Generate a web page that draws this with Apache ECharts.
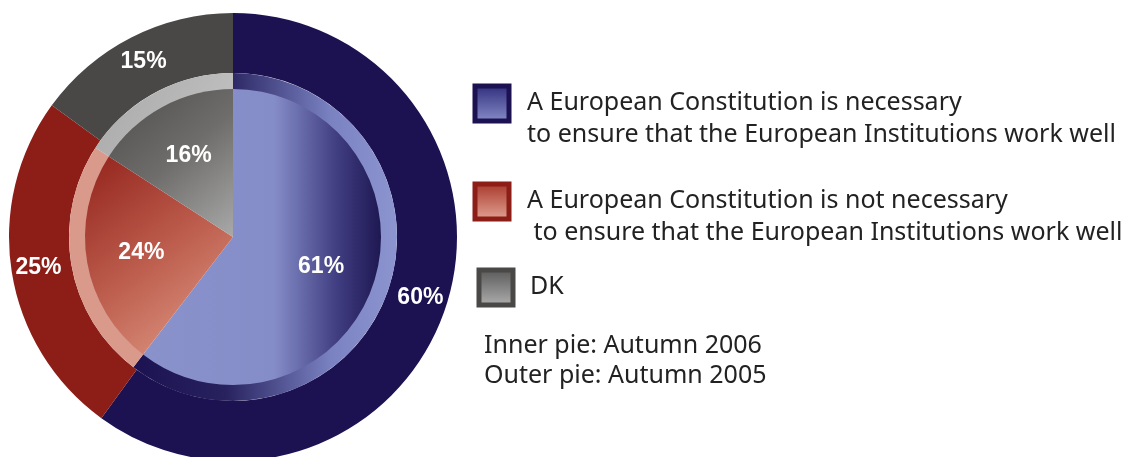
<!DOCTYPE html>
<html>
<head>
<meta charset="utf-8">
<script src="https://cdn.jsdelivr.net/npm/echarts@6/dist/echarts.min.js"></script>
<style>
html,body{margin:0;padding:0;background:#fff;}
#main{width:1128px;height:457px;}
</style>
</head>
<body>
<div id="main"></div>
<script>
// 数据
var categories = ['Necessary', 'Not necessary', 'DK'];
var innerValues = [61, 24, 16];   // Autumn 2006
var outerValues = [60, 25, 15];   // Autumn 2005
var legendLines = [
	['A European Constitution is necessary', 'to ensure that the European Institutions work well'],
	['A European Constitution is not necessary', ' to ensure that the European Institutions work well'],
	['DK']
];
var noteLines = ['Inner pie: Autumn 2006', 'Outer pie: Autumn 2005'];

var chart = echarts.init(document.getElementById('main'));

function lin(x, y, x2, y2, stops) {
	return new echarts.graphic.LinearGradient(x, y, x2, y2,
		stops.map(function(s){ return {offset: s[0], color: s[1]}; }));
}

var center = [233, 237];
var outerColors = ['#1c1252', '#8c1e17', '#4a4846'];
var innerColors = [
	lin(0, 0, 1, 0, [[0, '#8a92cc'], [0.55, '#858dc8'], [0.82, '#3f3c80'], [1, '#1e1852']]),
	lin(0, 0, 1, 1, [[0, '#93231c'], [0.5, '#bd5e4e'], [1, '#e4a08c']]),
	lin(0, 0, 1, 1, [[0, '#4e4c4a'], [0.5, '#6e6d6b'], [1, '#a9a9a9']])
];
var ringColors = [
	lin(0, 0, 1, 0, [[0, '#1c1252'], [0.35, '#28225f'], [0.75, '#7a82c2'], [1, '#8d95d0']]),
	'#d99a8b',
	lin(0, 0, 1, 1, [[0, '#a8a8a8'], [1, '#c4c4c4']])
];

function pieData(values, colors) {
	return values.map(function(v, i){
		return {name: categories[i], value: v, itemStyle: {color: colors[i]}};
	});
}

var labelStyle = {
	show: true,
	position: 'inside',
	formatter: '{c}%',
	color: '#fff',
	fontSize: 23,
	fontWeight: 'bold',
	fontFamily: 'Liberation Sans, Arial, sans-serif'
};

var series = [
	{
		type: 'pie', center: center, radius: [164, 224],
		startAngle: 90, clockwise: true, silent: true, animation: false,
		label: labelStyle, labelLine: {show: false},
		data: pieData(outerValues, outerColors)
	},
	{
		type: 'pie', center: center, radius: [147, 164],
		startAngle: 90, silent: true, animation: false,
		label: {show: false},
		data: pieData(innerValues, ringColors)
	},
	{
		type: 'pie', center: center, radius: [0, 148],
		startAngle: 90, silent: true, animation: false,
		label: {show: false},
		data: pieData(innerValues, innerColors)
	},
	{
		// 只用来放内圈的数值标签
		type: 'pie', center: center, radius: [32, 148], z: 5,
		startAngle: 90, silent: true, animation: false,
		label: labelStyle, labelLine: {show: false},
		data: pieData(innerValues, ['transparent', 'transparent', 'transparent'])
	}
];

// 图例(自己画)
var iconFill = [
	lin(0, 0, 0, 1, [[0, '#2c2a78'], [1, '#8a90cc']]),
	lin(0, 0, 0, 1, [[0, '#a63428'], [1, '#e3a797']]),
	lin(0, 0, 0, 1, [[0, '#555555'], [1, '#b2b2b2']])
];
var iconPos = [[475, 86], [475, 184], [479, 270]];
var textX = [527, 527, 530];
var textStyleBase = {fill: '#222', fontSize: 25, fontFamily: 'Noto Sans, sans-serif', textVerticalAlign: 'middle'};
var graphic = [];
for (var i = 0; i < legendLines.length; ++i) {
	graphic.push({
		type: 'rect',
		shape: {x: iconPos[i][0], y: iconPos[i][1], width: 34, height: 35},
		style: {fill: iconFill[i], stroke: outerColors[i], lineWidth: 5}
	});
	for (var l = 0; l < legendLines[i].length; ++l) {
		graphic.push({
			type: 'text', x: textX[i], y: iconPos[i][1] + 17 + l * 32,
			style: echarts.util.extend({text: legendLines[i][l]}, textStyleBase)
		});
	}
}
for (var n = 0; n < noteLines.length; ++n) {
	graphic.push({
		type: 'text', x: 484, y: 346 + n * 30,
		style: echarts.util.extend({text: noteLines[n]}, textStyleBase)
	});
}

chart.setOption({
	backgroundColor: '#fff',
	animation: false,
	series: series,
	graphic: graphic
});
</script>
</body>
</html>
